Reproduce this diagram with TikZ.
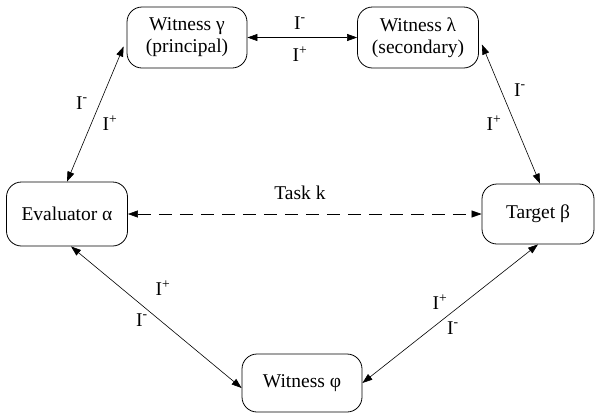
\documentclass[tikz,border=0pt]{standalone}
\usepackage{fontspec}
\setmainfont{Liberation Serif}
\usetikzlibrary{arrows.meta,calc}
\begin{document}
\begin{tikzpicture}[x=1pt,y=-1pt,
  every node/.style={font=\fontsize{19.5}{22}\selectfont},
  agent/.style={draw, line width=0.8pt, rounded corners=15pt, align=center,
    inner sep=0pt, minimum width=#1, minimum height=61pt},
  agent/.default=120pt,
  link/.style={line width=0.6pt, {Triangle[length=10pt,width=7pt]}-{Triangle[length=10pt,width=7pt]}},
  task/.style={link, dash pattern=on 13pt off 8pt},
  tag/.style={inner sep=0pt}]
\useasboundingbox (0,0) rectangle (596,413);

% agents
\node[agent] (wg) at (187,37.5) {Witness γ\\(principal)};
\node[agent=121pt] (wl) at (418,37.5) {Witness λ\\(secondary)};
\node[agent=121pt, minimum height=64pt] (ev) at (67,214) {Evaluator α};
\node[agent=112pt, minimum height=60pt] (tb) at (538,214) {Target β};
\node[agent, minimum height=58pt] (wp) at (302,383) {Witness φ};

% exchanges between agents
\draw[link] (wg.east) -- (wl.west);
\draw[link] ([xshift=-3pt,yshift=-9pt]wg.west) -- (ev.north);
\draw[link] ([xshift=3pt,yshift=-7pt]wl.east) -- ([xshift=2pt]tb.north);
\draw[link] ([xshift=4pt]ev.south) -- ([yshift=-5pt]wp.west);
\draw[link] (tb.south) -- (wp.east);
\draw[task] (ev.east) -- (tb.west);

% labels
\node[tag] (tk) at (300,193) {Task k};
\node[tag] (l1) at (300,23) {I\textsuperscript{-}};
\node[tag] (l2) at (300,54) {I\textsuperscript{+}};
\node[tag] (l3) at (82,103) {I\textsuperscript{-}};
\node[tag] (l4) at (110,123) {I\textsuperscript{+}};
\node[tag] (l5) at (520,90) {I\textsuperscript{-}};
\node[tag] (l6) at (494,123) {I\textsuperscript{+}};
\node[tag] (l7) at (163,288) {I\textsuperscript{+}};
\node[tag] (l8) at (142,320) {I\textsuperscript{-}};
\node[tag] (l9) at (440,302) {I\textsuperscript{+}};
\node[tag] (l10) at (453,328) {I\textsuperscript{-}};
\end{tikzpicture}
\end{document}
